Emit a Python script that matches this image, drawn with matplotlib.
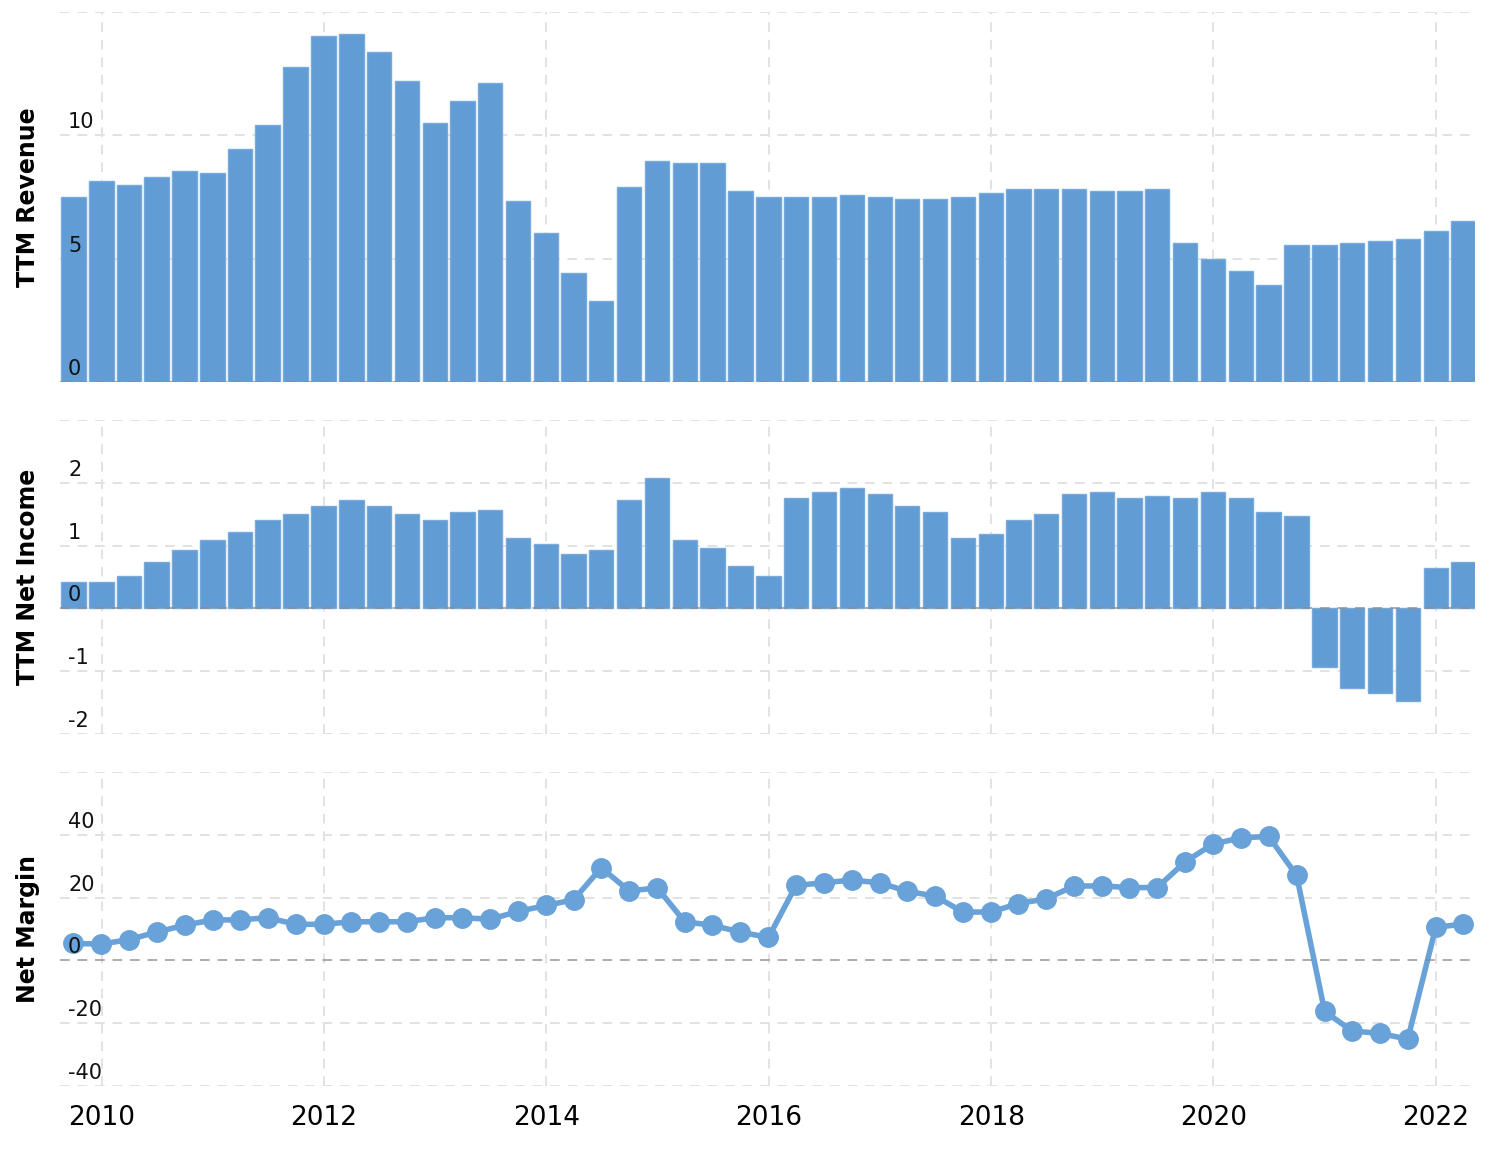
import matplotlib
matplotlib.use("Agg")
import matplotlib.pyplot as plt
import matplotlib.transforms as mtransforms
import pandas as pd

# quarter-end dates, Sep 2009 .. Mar 2022 (51 quarters)
dates = pd.date_range("2009-09-30", "2022-03-31", freq="QE")

# TTM revenue (billions)
revenue = [7.51, 8.16, 7.99, 8.32, 8.56, 8.48, 9.46, 10.43, 12.79, 14.01,
           14.09, 13.36, 12.22, 10.51, 11.41, 12.14, 7.34, 6.04, 4.42, 3.28,
           7.91, 8.97, 8.89, 8.89, 7.75, 7.51, 7.51, 7.51, 7.59, 7.51,
           7.43, 7.43, 7.51, 7.67, 7.83, 7.83, 7.83, 7.75, 7.75, 7.83,
           5.64, 4.99, 4.50, 3.93, 5.56, 5.56, 5.64, 5.72, 5.80, 6.12, 6.53]

# TTM net income (billions)
net_income = [0.42, 0.42, 0.52, 0.74, 0.93, 1.09, 1.22, 1.41, 1.50, 1.63,
              1.72, 1.63, 1.50, 1.41, 1.53, 1.57, 1.12, 1.03, 0.87, 0.93,
              1.72, 2.07, 1.09, 0.96, 0.68, 0.52, 1.76, 1.85, 1.92, 1.82,
              1.63, 1.53, 1.12, 1.19, 1.41, 1.50, 1.82, 1.85, 1.76, 1.79,
              1.76, 1.85, 1.76, 1.53, 1.47, -0.94, -1.26, -1.35, -1.48, 0.65, 0.74]

# net margin (%)
net_margin = [5.4, 5.2, 6.6, 9.0, 11.2, 12.9, 12.9, 13.6, 11.5, 11.5,
              12.3, 12.3, 12.3, 13.6, 13.6, 13.1, 15.6, 17.5, 19.3, 29.5,
              22.1, 23.1, 12.3, 11.2, 9.0, 7.3, 23.9, 24.7, 25.6, 24.7,
              22.0, 20.5, 15.4, 15.4, 18.1, 19.6, 23.7, 23.7, 23.2, 23.2,
              31.4, 37.1, 39.0, 39.5, 27.1, -16.2, -22.5, -23.2, -25.1, 10.5, 11.6]

year_ticks = [2010, 2012, 2014, 2016, 2018, 2020, 2022]

BAR = "#619cd4"
BAR_EDGE = "#78abdc"
LINE = "#68a2d8"
GRID = "#e2e2e2"

W, H = 1490, 1152
fig = plt.figure(figsize=(W / 100, H / 100), dpi=100)

left, width = 60 / W, 1415 / W
ax_rev = fig.add_axes([left, 770 / H, width, 370 / H])
ax_ni = fig.add_axes([left, 418 / H, width, 314 / H])
ax_nm = fig.add_axes([left, 66 / H, width, 314 / H])

xmin = pd.Timestamp("2009-08-17")
xmax = pd.Timestamp("2022-05-09")
tick_dates = [pd.Timestamp(f"{y}-01-01") for y in year_ticks]


def style_axis(ax, lo, hi, step, label):
    ticks = list(range(lo, hi + 1, step))
    ax.set_xlim(xmin, xmax)
    ax.set_ylim(lo, hi)
    for s in ax.spines.values():
        s.set_visible(False)
    ax.set_xticks(tick_dates)
    ax.set_yticks([])
    ax.tick_params(axis="x", length=0, labelbottom=False)
    for t in ticks:
        if t == 0:
            continue
        ax.axhline(t, color=GRID, lw=1.4, dashes=(5, 4), zorder=0)
    for d in tick_dates:
        ax.axvline(d, color=GRID, lw=1.4, dashes=(5, 4), zorder=0)
    ax.axhline(0, color="#8a8a8a", lw=1.4, dashes=(5, 4), alpha=0.7, zorder=4)
    # value labels sit inside the plot, just above their gridline
    off = mtransforms.offset_copy(ax.get_yaxis_transform(), fig=fig, x=8, y=3, units="dots")
    for t in ticks[:-1]:
        ax.text(0, t, str(t), transform=off, ha="left", va="bottom",
                fontsize=15, color="#111111", zorder=5)
    ax.set_ylabel(label, fontsize=17, fontweight="bold")
    ax.yaxis.set_label_coords(-20 / 1415, 0.5)


bar_w = pd.Timedelta(days=80)

ax_rev.bar(dates, revenue, width=bar_w, color=BAR, edgecolor=BAR_EDGE, linewidth=1, zorder=2)
style_axis(ax_rev, 0, 15, 5, "TTM Revenue")

ax_ni.bar(dates, net_income, width=bar_w, color=BAR, edgecolor=BAR_EDGE, linewidth=1, zorder=2)
style_axis(ax_ni, -2, 3, 1, "TTM Net Income")

ax_nm.plot(dates, net_margin, color=LINE, lw=4, marker="o", markersize=14,
           markerfacecolor=LINE, markeredgecolor=LINE, zorder=3)
style_axis(ax_nm, -40, 60, 20, "Net Margin")

ax_nm.tick_params(axis="x", labelbottom=True, pad=14, labelsize=19)
ax_nm.set_xticklabels([str(y) for y in year_ticks])

fig.savefig("out.png", dpi=100)
